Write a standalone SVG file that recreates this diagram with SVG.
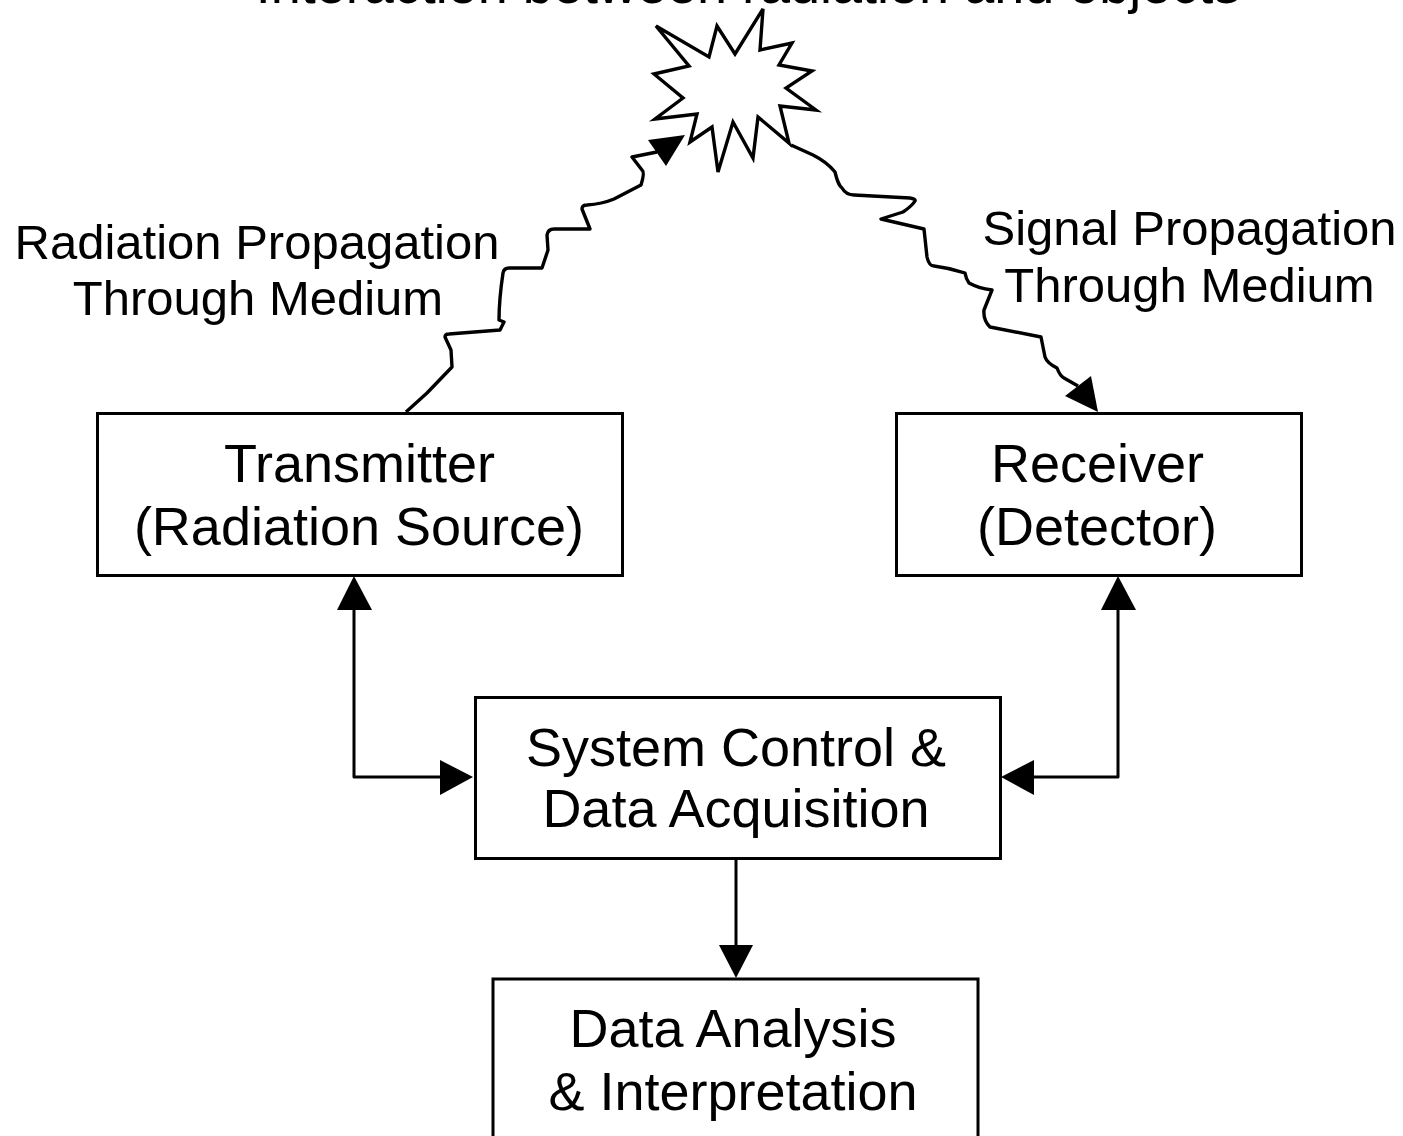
<svg xmlns="http://www.w3.org/2000/svg" width="1403" height="1136" viewBox="0 0 1403 1136">
<style>
.box{fill:#fff;stroke:#000;stroke-width:3}
.t{font-family:"Liberation Sans",Arial,sans-serif;fill:#000;text-anchor:middle;font-size:54px}
.l{font-size:49px}
.c{fill:none;stroke:#000;stroke-width:3;stroke-linejoin:round}
.w{stroke-width:3.4}
.h{fill:#000}
</style>
<rect width="1403" height="1136" fill="#fff"/>
<g id="connectors">
<path class="c" d="M354 610V777H442"/>
<path class="h" d="M354 576L372 610H337Z"/>
<path class="h" d="M473 777L440 760V795Z"/>
<path class="c" d="M1118 610V777H1032"/>
<path class="h" d="M1118 576L1136 610H1101Z"/>
<path class="h" d="M1001 777L1034 760V795Z"/>
<path class="c" d="M736 858V946"/>
<path class="h" d="M736 978L719 945H753Z"/>
<path class="c w" d="M406 412L427 393L452 367L451 350L445 337Q445 334 449 334L500 330L504 322L499 320Q499 300 503 273Q504 268 509 268L542 268L548 250L547 235Q548 229 554 229L590 229L582 209Q582 205 587 205Q602 204 614 199L641 185Q645 172 642 170L632 157L657 152"/>
<path class="h" d="M648 140L685 135L666 166Z"/>
<path class="c w" d="M791 145L813 155Q827 162 835 172Q838 185 842 188Q846 195 854 195L910 198Q916 199 915 201Q912 206 903 212L881 219L924 229L927 257Q929 266 934 266Q950 268 965 273Q966 279 969 283Q978 288 992 290L984 310Q983 320 990 327L1041 337L1045 357Q1047 363 1057 368Q1060 376 1064 378L1078 386"/>
<path class="h" d="M1091 376L1098 412L1065 396Z"/>
</g>
<g id="interaction">
<path class="w" fill="#fff" stroke="#000" stroke-linejoin="miter" d="M656 26L709 57L717 26L735 54L763 9L760 50L792 43L779 65L812 71L786 88L816 110L780 106L789 143L758 117L753 158L733 122L718 172L712 127L690 142L697 114L655 119L683 98L654 74L689 66Z"/>
<text class="t" x="748" y="3">Interaction between radiation and objects</text>
</g>
<g id="radiation-label"><text class="t l" x="257" y="259">Radiation Propagation</text><text class="t l" x="258" y="315">Through Medium</text></g>
<g id="signal-label"><text class="t l" x="1189.500" y="245">Signal Propagation</text><text class="t l" x="1189.500" y="302">Through Medium</text></g>
<g id="transmitter"><rect class="box" x="97.500" y="413.500" width="525" height="162"/><text class="t" x="359.500" y="482">Transmitter</text><text class="t" x="359" y="545">(Radiation Source)</text></g>
<g id="receiver"><rect class="box" x="896.500" y="413.500" width="405" height="162"/><text class="t" x="1097.500" y="482">Receiver</text><text class="t" x="1097" y="545">(Detector)</text></g>
<g id="control"><rect class="box" x="475.500" y="697.500" width="525" height="161"/><text class="t" x="736" y="766">System Control &amp;</text><text class="t" x="736" y="827">Data Acquisition</text></g>
<g id="analysis"><rect class="box" x="493" y="979" width="485" height="170"/><text class="t" x="733" y="1047">Data Analysis</text><text class="t" x="733" y="1110">&amp; Interpretation</text></g>
</svg>
